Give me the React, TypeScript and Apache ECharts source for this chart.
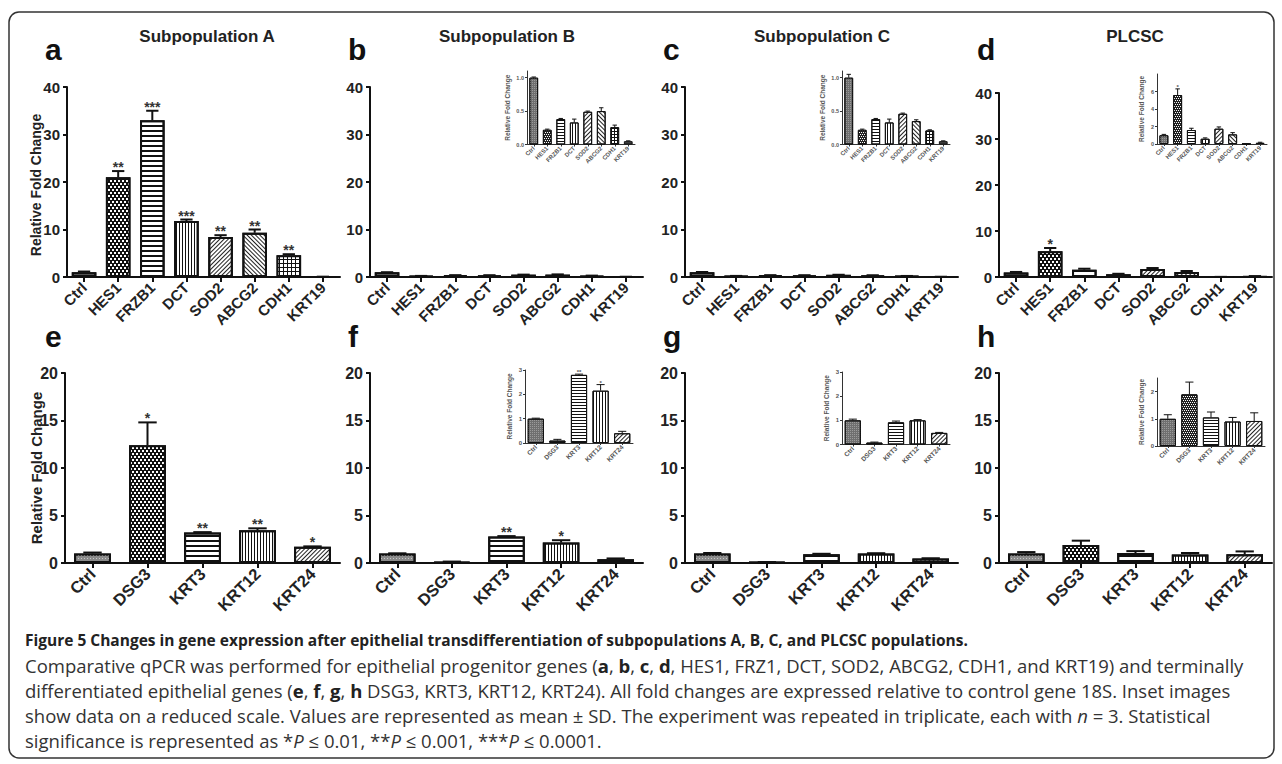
import React, { useEffect, useRef } from 'react';
import * as echarts from 'echarts';

// ---------- data ----------
const genesTop = ['Ctrl', 'HES1', 'FRZB1', 'DCT', 'SOD2', 'ABCG2', 'CDH1', 'KRT19'];
const genesBottom = ['Ctrl', 'DSG3', 'KRT3', 'KRT12', 'KRT24'];

const aMean = [1.0, 21.0, 33.0, 11.8, 8.4, 9.3, 4.6, 0.05];
const aSd = [0.15, 1.3, 2.0, 0.3, 0.4, 0.7, 0.2, 0.02];
const aSig = ['', '**', '***', '***', '**', '**', '**', ''];

const bMean = [1.0, 0.22, 0.38, 0.33, 0.49, 0.5, 0.26, 0.05];
const bSd = [0.01, 0.01, 0.01, 0.05, 0.01, 0.05, 0.03, 0.005];
const bSig = ['', '', '', '', '', '', '', ''];

const cMean = [1.0, 0.22, 0.38, 0.33, 0.46, 0.35, 0.21, 0.05];
const cSd = [0.05, 0.01, 0.01, 0.05, 0.01, 0.02, 0.01, 0.005];
const cSig = ['', '', '', '', '', '', '', ''];

const dMean = [1.0, 5.6, 1.6, 0.6, 1.75, 1.1, 0.02, 0.15];
const dSd = [0.1, 0.7, 0.2, 0.1, 0.2, 0.2, 0.01, 0.05];
const dSig = ['', '*', '', '', '', '', '', ''];

const eMean = [1.0, 12.4, 3.2, 3.45, 1.7];
const eSd = [0.1, 2.4, 0.05, 0.2, 0.05];
const eSig = ['', '*', '**', '**', '*'];

const fMean = [1.0, 0.1, 2.8, 2.15, 0.4];
const fSd = [0.02, 0.05, 0.03, 0.25, 0.08];
const fSig = ['', '', '**', '*', ''];

const gMean = [1.0, 0.08, 0.92, 1.0, 0.48];
const gSd = [0.05, 0.02, 0.05, 0.03, 0.02];
const gSig = ['', '', '', '', ''];

const hMean = [1.0, 1.9, 1.05, 0.9, 0.92];
const hSd = [0.15, 0.45, 0.2, 0.15, 0.3];
const hSig = ['', '', '', '', ''];

const topMainTicks = [0, 10, 20, 30, 40];
const bottomMainTicks = [0, 5, 10, 15, 20];
const insetTicksBC = [0, 0.5, 1.0];
const insetTicksD = [0, 2, 4, 6];
const insetTicksFG = [0, 1, 2, 3];
const insetTicksH = [0, 1, 2];

const patternsTop = ['ctrl', 'dots', 'hstripe', 'vstripe', 'diagR', 'diagL', 'grid', 'dark'];
const patternsBottom = ['ctrl', 'dots', 'hstripe', 'vstripe', 'diagR'];

const panelTitles = ['Subpopulation A', 'Subpopulation B', 'Subpopulation C', 'PLCSC'];
const panelLettersTop = ['a', 'b', 'c', 'd'];
const panelLettersBottom = ['e', 'f', 'g', 'h'];

// ---------- styling helpers ----------
const FONT = 'Liberation Sans';
const CAPFONT = 'Open Sans';

function pattern(name: string, inset: boolean): any {
  switch (name) {
    case 'ctrl':
      return inset
        ? { color: '#6f6f6f', decal: { symbol: 'rect', color: '#9a9a9a', symbolSize: 1, dashArrayX: [1, 1], dashArrayY: [1, 1] } }
        : { color: '#8a8a8a', decal: { symbol: 'rect', color: '#c8c8c8', symbolSize: 1, dashArrayX: [1, 2], dashArrayY: [1, 2] } };
    case 'dots':
      return inset
        ? { color: '#222', decal: { symbol: 'rect', color: '#fff', symbolSize: 1, dashArrayX: [[1, 1], [0, 1, 1, 0]], dashArrayY: [1, 1] } }
        : { color: '#111', decal: { symbol: 'rect', color: '#fff', symbolSize: 1, dashArrayX: [[2, 2], [0, 2, 2, 0]], dashArrayY: [2, 1] } };
    case 'hstripe':
      return { color: '#fff', decal: { symbol: 'rect', color: '#111', symbolSize: 1, dashArrayX: [1, 0], dashArrayY: inset ? [1, 2] : [2, 3], rotation: 0 } };
    case 'vstripe':
      return { color: '#fff', decal: { symbol: 'rect', color: '#111', symbolSize: 1, dashArrayX: [1, 0], dashArrayY: [1, 2], rotation: Math.PI / 2 } };
    case 'diagR':
      return { color: '#fff', decal: { symbol: 'rect', color: '#222', symbolSize: 1, dashArrayX: [1, 0], dashArrayY: [1, 2], rotation: -Math.PI / 4 } };
    case 'diagL':
      return { color: '#fff', decal: { symbol: 'rect', color: '#222', symbolSize: 1, dashArrayX: [1, 0], dashArrayY: [1, 2], rotation: Math.PI / 4 } };
    case 'grid':
      return { color: '#111', decal: { symbol: 'rect', color: '#fff', symbolSize: 1, dashArrayX: inset ? [2, 1] : [3, 1], dashArrayY: inset ? [2, 1] : [3, 1] } };
    default:
      return { color: '#444' };
  }
}

type Panel = {
  left: number; top: number; width: number; height: number;
  cats: string[]; mean: number[]; sd: number[]; sig: string[]; pats: string[];
  max: number; ticks: number[]; fmt?: (v: number) => string;
  inset: boolean; barRatio: number; xFont: number; yFont: number;
};

function buildOption(): any {
  const colX = [67, 370, 685, 999];
  const panels: Panel[] = [];
  const topMeans = [aMean, bMean, cMean, dMean];
  const topSds = [aSd, bSd, cSd, dSd];
  const topSigs = [aSig, bSig, cSig, dSig];
  const botMeans = [eMean, fMean, gMean, hMean];
  const botSds = [eSd, fSd, gSd, hSd];
  const botSigs = [eSig, fSig, gSig, hSig];

  for (let c = 0; c < 4; c++) {
    panels.push({
      left: colX[c], top: c === 3 ? 93 : 87, width: 273, height: c === 3 ? 184 : 190,
      cats: genesTop, mean: topMeans[c], sd: topSds[c], sig: topSigs[c], pats: patternsTop,
      max: 40, ticks: topMainTicks, inset: false, barRatio: 0.72, xFont: 15, yFont: 15,
    });
  }
  for (let c = 0; c < 4; c++) {
    panels.push({
      left: c === 0 ? 65 : colX[c], top: 373, width: c === 0 ? 275 : 273, height: 190,
      cats: genesBottom, mean: botMeans[c], sd: botSds[c], sig: botSigs[c], pats: patternsBottom,
      max: 20, ticks: bottomMainTicks, inset: false, barRatio: 0.67, xFont: 16.5, yFont: 16,
    });
  }
  const fmt1 = (v: number) => v.toFixed(1);
  panels.push({ left: 527, top: 71, width: 108, height: 73.5, cats: genesTop, mean: bMean, sd: bSd, sig: bSig, pats: patternsTop, max: 1.1, ticks: insetTicksBC, fmt: fmt1, inset: true, barRatio: 0.65, xFont: 6, yFont: 5.5 });
  panels.push({ left: 842, top: 71, width: 108, height: 73.5, cats: genesTop, mean: cMean, sd: cSd, sig: cSig, pats: patternsTop, max: 1.1, ticks: insetTicksBC, fmt: fmt1, inset: true, barRatio: 0.65, xFont: 6, yFont: 5.5 });
  panels.push({ left: 1157, top: 74, width: 110, height: 70, cats: genesTop, mean: dMean, sd: dSd, sig: dSig, pats: patternsTop, max: 8, ticks: insetTicksD, inset: true, barRatio: 0.65, xFont: 6, yFont: 5.5 });
  panels.push({ left: 525, top: 370, width: 108, height: 73, cats: genesBottom, mean: fMean, sd: fSd, sig: fSig, pats: patternsBottom, max: 3, ticks: insetTicksFG, inset: true, barRatio: 0.75, xFont: 6.5, yFont: 6 });
  panels.push({ left: 842, top: 372, width: 108, height: 72.5, cats: genesBottom, mean: gMean, sd: gSd, sig: gSig, pats: patternsBottom, max: 3, ticks: insetTicksFG, inset: true, barRatio: 0.75, xFont: 6.5, yFont: 6 });
  panels.push({ left: 1157, top: 378, width: 108, height: 68, cats: genesBottom, mean: hMean, sd: hSd, sig: hSig, pats: patternsBottom, max: 2.5, ticks: insetTicksH, inset: true, barRatio: 0.75, xFont: 6.5, yFont: 6 });

  const grid: any[] = [];
  const xAxis: any[] = [];
  const yAxis: any[] = [];
  const series: any[] = [];

  panels.forEach((p, i) => {
    const ins = p.inset;
    const axisColor = ins ? '#333' : '#111';
    const lw = ins ? 1 : 2;
    grid.push({ left: p.left, top: p.top, width: p.width, height: p.height, containLabel: false });
    xAxis.push({
      type: 'category', gridIndex: i, data: p.cats,
      axisLine: { show: true, lineStyle: { color: axisColor, width: lw } },
      axisTick: { show: true, alignWithLabel: true, length: ins ? 2 : 5, lineStyle: { color: axisColor, width: lw } },
      axisLabel: {
        rotate: 45, interval: 0, margin: ins ? 3 : 8,
        fontFamily: FONT, fontWeight: 'bold', fontSize: p.xFont, color: ins ? '#555' : '#222',
      },
      splitLine: { show: false },
    });
    const y: any = {
      type: 'value', gridIndex: i, min: 0, max: p.max,
      axisLine: { show: true, lineStyle: { color: axisColor, width: lw } },
      axisTick: { show: true, length: ins ? 2 : 4, lineStyle: { color: axisColor, width: lw } },
      axisLabel: {
        margin: ins ? 3 : 7, fontFamily: FONT, fontWeight: 'bold',
        fontSize: p.yFont, color: ins ? '#555' : '#222',
        formatter: p.fmt ? (v: number) => p.fmt!(v) : (v: number) => String(v),
      },
      splitLine: { show: false },
    };
    if (ins) {
      y.axisLabel.customValues = p.ticks;
      y.axisTick.customValues = p.ticks;
      y.name = 'Relative Fold Change';
      y.nameLocation = 'middle';
      y.nameRotate = 90;
      y.nameGap = p.fmt ? 16 : 12;
      y.nameTextStyle = { fontFamily: FONT, fontWeight: 'bold', fontSize: 6.5, color: '#555' };
    } else {
      y.interval = p.ticks[1] - p.ticks[0];
    }
    yAxis.push(y);

    series.push({
      type: 'bar', xAxisIndex: i, yAxisIndex: i,
      barWidth: Math.round(p.barRatio * 100) + '%',
      silent: true,
      data: p.mean.map((m, j) => {
        const pt = pattern(p.pats[j], ins);
        return { value: m, itemStyle: { color: pt.color, decal: pt.decal, borderColor: '#111', borderWidth: ins ? 1 : 2 } };
      }),
    });

    const sigs = p.sig;
    series.push({
      type: 'custom', xAxisIndex: i, yAxisIndex: i, silent: true, z: 5,
      data: p.mean.map((m, j) => [j, m, p.sd[j]]),
      encode: { x: 0, y: 1 },
      renderItem: (params: any, api: any) => {
        const idx = api.value(0);
        const m = api.value(1);
        const sd = api.value(2);
        const base = api.coord([idx, m]);
        const topPt = api.coord([idx, m + sd]);
        const bw = api.size([1, 0])[0] * p.barRatio;
        const cap = bw * 0.5;
        const children: any[] = [
          { type: 'line', shape: { x1: base[0], y1: base[1], x2: topPt[0], y2: topPt[1] }, style: { stroke: '#111', lineWidth: lw } },
          { type: 'line', shape: { x1: topPt[0] - cap / 2, y1: topPt[1], x2: topPt[0] + cap / 2, y2: topPt[1] }, style: { stroke: '#111', lineWidth: lw } },
        ];
        const s = sigs[params.dataIndex];
        if (s) {
          children.push({
            type: 'text', x: topPt[0], y: topPt[1] + (ins ? 1 : 3),
            style: {
              text: s, fill: ins ? '#555' : '#333', fontFamily: FONT, fontWeight: 'bold',
              fontSize: ins ? 6 : 14, align: 'center', verticalAlign: 'bottom',
            },
          });
        }
        return { type: 'group', children };
      },
    });
  });

  const graphic: any[] = [];
  graphic.push({ type: 'rect', shape: { x: 9, y: 12, width: 1265, height: 746, r: 10 }, style: { fill: 'none', stroke: '#333', lineWidth: 1.5 }, silent: true });

  const titleCenters = [207, 507, 822, 1135];
  panelTitles.forEach((t, c) => {
    graphic.push({ type: 'text', x: titleCenters[c], y: 36, style: { text: t, fontFamily: FONT, fontWeight: 'bold', fontSize: 17, fill: '#222', align: 'center', verticalAlign: 'middle' } });
  });
  const letterX = [45, 348, 663, 977];
  panelLettersTop.forEach((l, c) => {
    graphic.push({ type: 'text', x: letterX[c], y: 64, style: { text: l, fontFamily: FONT, fontWeight: 'bold', fontSize: 30, fill: '#111', align: 'left', verticalAlign: 'bottom' } });
  });
  panelLettersBottom.forEach((l, c) => {
    graphic.push({ type: 'text', x: letterX[c], y: 351, style: { text: l, fontFamily: FONT, fontWeight: 'bold', fontSize: 30, fill: '#111', align: 'left', verticalAlign: 'bottom' } });
  });
  graphic.push({ type: 'text', x: 36, y: 185, rotation: Math.PI / 2, style: { text: 'Relative Fold Change', fontFamily: FONT, fontWeight: 'bold', fontSize: 14, fill: '#222', align: 'center', verticalAlign: 'middle' } });
  graphic.push({ type: 'text', x: 36, y: 468, rotation: Math.PI / 2, style: { text: 'Relative Fold Change', fontFamily: FONT, fontWeight: 'bold', fontSize: 15, fill: '#222', align: 'center', verticalAlign: 'middle' } });

  const BS = 18.5;
  const n = { fontFamily: CAPFONT, fontSize: BS, fill: '#333' };
  const b = { fontFamily: CAPFONT, fontSize: BS, fontWeight: 'bold', fill: '#222' };
  const it = { fontFamily: CAPFONT, fontSize: BS, fontStyle: 'italic', fill: '#333' };
  const h = { fontFamily: CAPFONT, fontSize: 15.5, fontWeight: 'bold', fill: '#222' };
  const rich = { n, b, i: it, h };
  const capLines = [
    '{h|Figure 5 Changes in gene expression after epithelial transdifferentiation of subpopulations A, B, C, and PLCSC populations.}',
    '{n|Comparative qPCR was performed for epithelial progenitor genes (}{b|a}{n|, }{b|b}{n|, }{b|c}{n|, }{b|d}{n|, HES1, FRZ1, DCT, SOD2, ABCG2, CDH1, and KRT19) and terminally}',
    '{n|differentiated epithelial genes (}{b|e}{n|, }{b|f}{n|, }{b|g}{n|, }{b|h}{n| DSG3, KRT3, KRT12, KRT24). All fold changes are expressed relative to control gene 18S. Inset images}',
    '{n|show data on a reduced scale. Values are represented as mean ± SD. The experiment was repeated in triplicate, each with }{i|n}{n| = 3. Statistical}',
    '{n|significance is represented as *}{i|P}{n| ≤ 0.01, **}{i|P}{n| ≤ 0.001, ***}{i|P}{n| ≤ 0.0001.}',
  ];
  const capY = [640, 665, 690, 715, 740];
  capLines.forEach((t, k) => {
    graphic.push({ type: 'text', x: 25, y: capY[k], style: { text: t, rich, align: 'left', verticalAlign: 'middle' } });
  });

  return { animation: false, backgroundColor: '#fff', grid, xAxis, yAxis, series, graphic };
}

export default function App() {
  const ref = useRef<HTMLDivElement>(null);
  useEffect(() => {
    if (!ref.current) return;
    const chart = echarts.init(ref.current, undefined, { renderer: 'svg' });
    chart.setOption(buildOption());
    return () => chart.dispose();
  }, []);
  return <div ref={ref} style={{ position: 'fixed', left: 0, top: 0, width: 1282, height: 764, background: '#fff' }} />;
}
